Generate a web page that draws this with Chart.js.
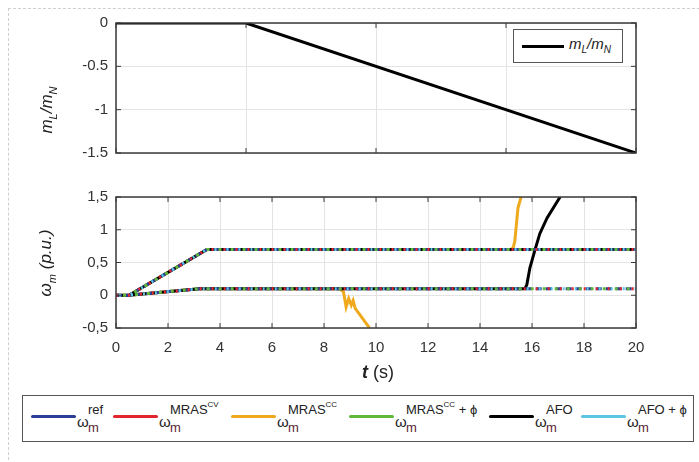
<!DOCTYPE html>
<html>
<head>
<meta charset="utf-8">
<script src="https://cdn.jsdelivr.net/npm/chart.js@4.4.0/dist/chart.umd.min.js"></script>
<style>
  html, body { margin: 0; padding: 0; background: #fff; overflow: hidden; }
  body { width: 699px; height: 462px; position: relative; font-family: "Liberation Sans", Arial, sans-serif; color: #222; }
  #frame { position: absolute; left: 8px; top: 8px; width: 720px; height: 480px; border: 1.5px dashed #cfcfcf; }
  canvas { position: absolute; left: 0; }
  #c1 { top: 0; }
  #c2 { top: 170px; }
  .ytitle { position: absolute; transform: translate(-50%, -50%) rotate(-90deg); font-style: italic; font-size: 17px; white-space: nowrap; }
  .ytitle sub { font-size: 11px; }
  #xtitle { position: absolute; left: 378px; top: 372px; transform: translate(-50%, -50%); font-size: 18px; white-space: nowrap; }
  #loadLegend { position: absolute; left: 513px; top: 29px; width: 108px; height: 32px; border: 1px solid #555; background: #fff; }
  #loadLegend .ln { position: absolute; left: 8px; top: 15px; width: 42px; height: 3px; background: #000; }
  #loadLegend .tx { position: absolute; left: 55px; top: 5px; font-style: italic; font-size: 15px; white-space: nowrap; }
  #loadLegend sub { font-size: 10px; }
  #legend { position: absolute; left: 22px; top: 395px; width: 670px; height: 45px; border: 1.5px solid #555; background: #fff; }
  .item { position: absolute; top: 0; height: 45px; }
  .item .ln { position: absolute; left: 0; top: 19px; width: 45px; height: 3px; border-radius: 2px; }
  .item .lab { position: absolute; left: 46px; top: 0; white-space: nowrap; }
  .lab .w { position: absolute; left: 0; top: 17px; font-size: 15px; }
  .lab .sp { position: absolute; left: 11px; top: 6px; font-size: 13px; white-space: nowrap; }
  .lab .sp sup { font-size: 8px; position: relative; top: -2px; }
  .lab .sb { position: absolute; left: 11px; top: 24px; font-size: 13px; color: #5a1f33; }
</style>
</head>
<body>
<div id="frame"></div>
<canvas id="c1" width="699" height="170"></canvas>
<canvas id="c2" width="699" height="220"></canvas>
<div class="ytitle" style="left:48px; top:110px;">m<sub>L</sub>/m<sub>N</sub></div>
<div class="ytitle" style="left:47px; top:263px;">ω<sub>m</sub> (p.u.)</div>
<div id="xtitle"><b><i>t</i></b> (s)</div>
<div id="loadLegend"><div class="ln"></div><div class="tx">m<sub>L</sub>/m<sub>N</sub></div></div>
<div id="legend"></div>
<script>
// load torque profile
const tLoad = [0, 5, 20];
const loadRatio = [0, 0, -1.5];

// speed reference, two runs
const tRefHigh = [0, 0.5, 3.5, 20];
const wRefHigh = [0, 0, 0.7, 0.7];
const tRefLow = [0, 0.5, 3.2, 20];
const wRefLow = [0, 0, 0.1, 0.1];

// MRAS CC estimator loses track
const tCcHigh = [0, 0.5, 3.5, 15.2, 15.28, 15.34, 15.46, 15.58];
const wCcHigh = [0, 0, 0.7, 0.7, 0.73, 0.83, 1.33, 1.5];
const tCcLow = [0, 0.5, 3.2, 8.6, 8.75, 8.85, 8.95, 9.05, 9.12, 9.2, 9.75];
const wCcLow = [0, 0, 0.1, 0.1, 0.05, -0.18, -0.05, -0.15, -0.08, -0.2, -0.5];

// AFO estimator loses track on the low run
const tAfoLow = [0, 0.5, 3.2, 15.73, 15.8, 15.92, 16.12, 16.3, 16.58, 17.08];
const wAfoLow = [0, 0, 0.1, 0.1, 0.16, 0.42, 0.7, 0.94, 1.18, 1.5];

const xTicksTop = [0, 5, 10, 15, 20];
const yTicksTop = [0, -0.5, -1, -1.5];

const seriesNames = ['ω_m^ref', 'ω_m^MRAS_CV', 'ω_m^MRAS_CC', 'ω_m^MRAS_CC+φ', 'ω_m^AFO', 'ω_m^AFO+φ'];
const seriesColors = ['#2b3d96', '#e3262d', '#eea91d', '#62b83d', '#000000', '#5cc6e2'];
const legendSup = ['ref', 'MRAS<sup>CV</sup>', 'MRAS<sup>CC</sup>', 'MRAS<sup>CC</sup> + ϕ', 'AFO', 'AFO + ϕ'];
const legendX = [8, 90, 208, 326, 466, 558];

function pts(t, w) {
  return t.map((v, i) => ({ x: v, y: w[i] }));
}
function twoRuns(tA, wA, tB, wB) {
  return pts(tA, wA).concat([{ x: NaN, y: null }], pts(tB, wB));
}

const FONT = { family: '"Liberation Sans", Arial, sans-serif', size: 15 };

const boxPlugin = {
  id: 'box',
  afterDatasetsDraw(chart) {
    const a = chart.chartArea, ctx = chart.ctx;
    const xs = chart.scales.x, ys = chart.scales.y;
    ctx.save();
    ctx.strokeStyle = '#3a3a3a';
    ctx.lineWidth = 1.5;
    ctx.strokeRect(a.left, a.top, a.right - a.left, a.bottom - a.top);
    ctx.lineWidth = 1;
    ctx.beginPath();
    xs.ticks.forEach(tk => {
      const px = xs.getPixelForValue(tk.value);
      ctx.moveTo(px, a.bottom); ctx.lineTo(px, a.bottom - 5);
      ctx.moveTo(px, a.top); ctx.lineTo(px, a.top + 5);
    });
    ys.ticks.forEach(tk => {
      const py = ys.getPixelForValue(tk.value);
      ctx.moveTo(a.left, py); ctx.lineTo(a.left + 5, py);
      ctx.moveTo(a.right, py); ctx.lineTo(a.right - 5, py);
    });
    ctx.stroke();
    ctx.restore();
  }
};

// top: load
new Chart(document.getElementById('c1'), {
  type: 'line',
  data: {
    datasets: [{
      label: 'mL/mN',
      data: pts(tLoad, loadRatio),
      borderColor: '#000',
      borderWidth: 3,
      pointRadius: 0,
      tension: 0
    }]
  },
  options: {
    responsive: false,
    animation: false,
    layout: { padding: { left: 0, right: 63, top: 23, bottom: 16 } },
    plugins: { legend: { display: false }, tooltip: { enabled: false } },
    scales: {
      x: {
        type: 'linear', min: 0, max: 20,
        afterBuildTicks: s => { s.ticks = xTicksTop.map(v => ({ value: v })); },
        ticks: { display: false },
        grid: { color: '#e4e4e4', drawTicks: false },
        border: { display: false },
        afterFit: s => { s.height = 0; }
      },
      y: {
        min: -1.5, max: 0,
        afterBuildTicks: s => { s.ticks = yTicksTop.map(v => ({ value: v })); },
        ticks: { font: FONT, color: '#333', padding: 8, callback: v => String(v) },
        grid: { color: '#e4e4e4', drawTicks: false },
        border: { display: false },
        afterFit: s => { s.width = 116; }
      }
    }
  },
  plugins: [boxPlugin]
});

// bottom: speed
const fullRef = twoRuns(tRefHigh, wRefHigh, tRefLow, wRefLow);
const dataBySeries = [
  fullRef,
  fullRef,
  twoRuns(tCcHigh, wCcHigh, tCcLow, wCcLow),
  fullRef,
  twoRuns(tRefHigh, wRefHigh, tAfoLow, wAfoLow),
  fullRef
];
const dashes = [[6, 4], [2, 10], null, [3, 9], null, [2, 10]];
const dashOffsets = [0, 0, 0, 5, 0, 9];
const drawOrder = [3, 2, 6, 1, 5, 0];

new Chart(document.getElementById('c2'), {
  type: 'line',
  data: {
    datasets: seriesNames.map((n, i) => ({
      label: n,
      data: dataBySeries[i],
      borderColor: seriesColors[i],
      borderWidth: 3,
      borderDash: dashes[i] || [],
      borderDashOffset: dashOffsets[i],
      pointRadius: 0,
      tension: 0,
      spanGaps: false,
      order: drawOrder[i]
    }))
  },
  options: {
    responsive: false,
    animation: false,
    layout: { padding: { left: 0, right: 63, top: 27, bottom: 0 } },
    plugins: { legend: { display: false }, tooltip: { enabled: false } },
    scales: {
      x: {
        type: 'linear', min: 0, max: 20,
        ticks: { stepSize: 2, font: FONT, color: '#333', padding: 11 },
        grid: { color: '#e4e4e4', drawTicks: false },
        border: { display: false },
        afterFit: s => { s.height = 62; }
      },
      y: {
        min: -0.5, max: 1.5,
        ticks: { stepSize: 0.5, font: FONT, color: '#333', padding: 8,
          callback: v => String(v).replace('.', ',') },
        grid: { color: '#e4e4e4', drawTicks: false },
        border: { display: false },
        afterFit: s => { s.width = 116; }
      }
    }
  },
  plugins: [boxPlugin]
});

// legend box below
const legend = document.getElementById('legend');
seriesNames.forEach((n, i) => {
  const it = document.createElement('div');
  it.className = 'item';
  it.style.left = legendX[i] + 'px';
  it.innerHTML = '<div class="ln" style="background:' + seriesColors[i] + '"></div>' +
    '<div class="lab"><span class="w">ω</span><span class="sp">' + legendSup[i] +
    '</span><span class="sb">m</span></div>';
  legend.appendChild(it);
});
</script>
</body>
</html>
